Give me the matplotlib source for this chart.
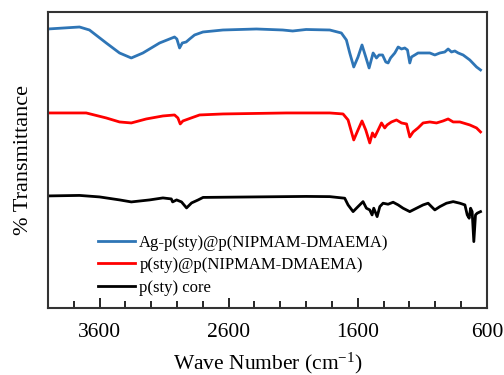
import matplotlib.pyplot as plt
from matplotlib.ticker import MultipleLocator

# wavenumbers (cm-1) and transmittance (arbitrary offset units)
wn_ag = [4000, 3755, 3678, 3548, 3445, 3354, 3264, 3135, 3019, 3001, 2980, 2959, 2929,
         2902, 2864, 2799, 2644, 2385, 2182, 2104, 2000, 1817, 1727, 1688, 1662, 1631,
         1598, 1567, 1538, 1512, 1481, 1455, 1435, 1408, 1383, 1365, 1346, 1313, 1287,
         1261, 1236, 1215, 1197, 1184, 1158, 1133, 1094, 1042, 1003, 964, 926, 900,
         874, 848, 822, 784, 732, 680, 649]
t_ag = [279, 281, 278, 265, 255, 250, 255, 265, 271, 269, 260, 265, 266,
        269, 273, 276, 278, 279, 278, 277, 278.5, 278, 275, 268, 255, 241,
        251, 263, 251, 240, 255, 250, 253, 253, 246, 245, 250, 255, 261,
        259, 260, 258, 245, 251, 253, 255, 255, 255, 253, 255, 256, 259,
        256, 257, 255, 253, 248, 241, 238]

wn_core_shell = [4000, 3703, 3548, 3445, 3354, 3238, 3109, 3019, 2993, 2975, 2954, 2890,
                 2825, 2644, 2153, 2000, 1817, 1714, 1675, 1631, 1598, 1567, 1538, 1507,
                 1486, 1468, 1442, 1416, 1391, 1373, 1339, 1300, 1261, 1222, 1197, 1171,
                 1133, 1094, 1042, 990, 939, 900, 861, 809, 732, 680, 649]
t_core_shell = [195, 195, 190, 186, 185, 189, 192, 193, 190, 184, 187, 190,
                193, 194, 195, 195, 195, 194, 188, 168, 178, 187, 178, 165,
                175, 171, 178, 185, 180, 183, 186, 188, 185, 184, 171, 176,
                180, 185, 186, 185, 187, 189, 186, 186, 183, 180, 176]

wn_core = [4000, 3755, 3600, 3444, 3354, 3212, 3109, 3044, 3034, 3003, 2965, 2926, 2887,
           2836, 2798, 2400, 2000, 1817, 1701, 1675, 1636, 1598, 1559, 1533, 1507, 1489,
           1476, 1450, 1429, 1404, 1365, 1326, 1287, 1249, 1197, 1145, 1094, 1055, 1029,
           1003, 964, 913, 861, 809, 770, 752, 737, 726, 714, 701, 688, 675, 649]
t_core = [112, 112.5, 111, 108, 106, 108, 110, 109, 106, 108, 106, 100, 105,
          108, 110.5, 111, 111.5, 111.3, 109.7, 103, 96.3, 101.3, 106.3, 99.7, 98, 93,
          99.7, 91.3, 101.3, 104.7, 103.7, 105.7, 103, 99.7, 96.3, 99.7, 103, 104.7, 101.3,
          98, 101.3, 104.7, 106.3, 104.7, 103, 93, 89.7, 99.7, 96.3, 66.3, 93, 94.7, 96.3]

labels = ["Ag-p(sty)@p(NIPMAM-DMAEMA)", "p(sty)@p(NIPMAM-DMAEMA)", "p(sty) core"]

plt.rcParams['font.family'] = ['Liberation Serif', 'DejaVu Serif']
plt.rcParams['mathtext.fontset'] = 'custom'
plt.rcParams['mathtext.rm'] = 'Liberation Serif'

fig = plt.figure(figsize=(5.04, 3.75), dpi=100)
ax = fig.add_axes([0.095, 0.179, 0.871, 0.789])

ax.plot(wn_ag, t_ag, color="#2e75b6", lw=2, label=labels[0])
ax.plot(wn_core_shell, t_core_shell, color="#ff0000", lw=2, label=labels[1])
ax.plot(wn_core, t_core, color="black", lw=2, label=labels[2])

ax.set_xlim(4000, 600)
ax.set_ylim(0, 296)
ax.xaxis.set_minor_locator(MultipleLocator(200))
ax.set_xticks([3600, 2600, 1600, 600])
ax.set_yticks([])
ax.tick_params(axis='x', which='major', direction='in', length=7, width=1.2,
               labelsize=15.5, pad=11)
ax.tick_params(axis='x', which='minor', direction='in', length=5, width=1.2)
for s in ax.spines.values():
    s.set_linewidth(1.5)
    s.set_color("#333333")

ax.set_xlabel("Wave Number (cm$\\mathregular{^{-1}}$)", fontsize=15.5, labelpad=6)
ax.set_ylabel("% Transmittance", fontsize=16, labelpad=11)

ax.legend(loc='upper left', bbox_to_anchor=(0.1, 0.27), frameon=False,
          fontsize=12, handlelength=2.2, handletextpad=0.25, labelspacing=0.4,
          borderaxespad=0)

fig.savefig("out.png", dpi=100)
